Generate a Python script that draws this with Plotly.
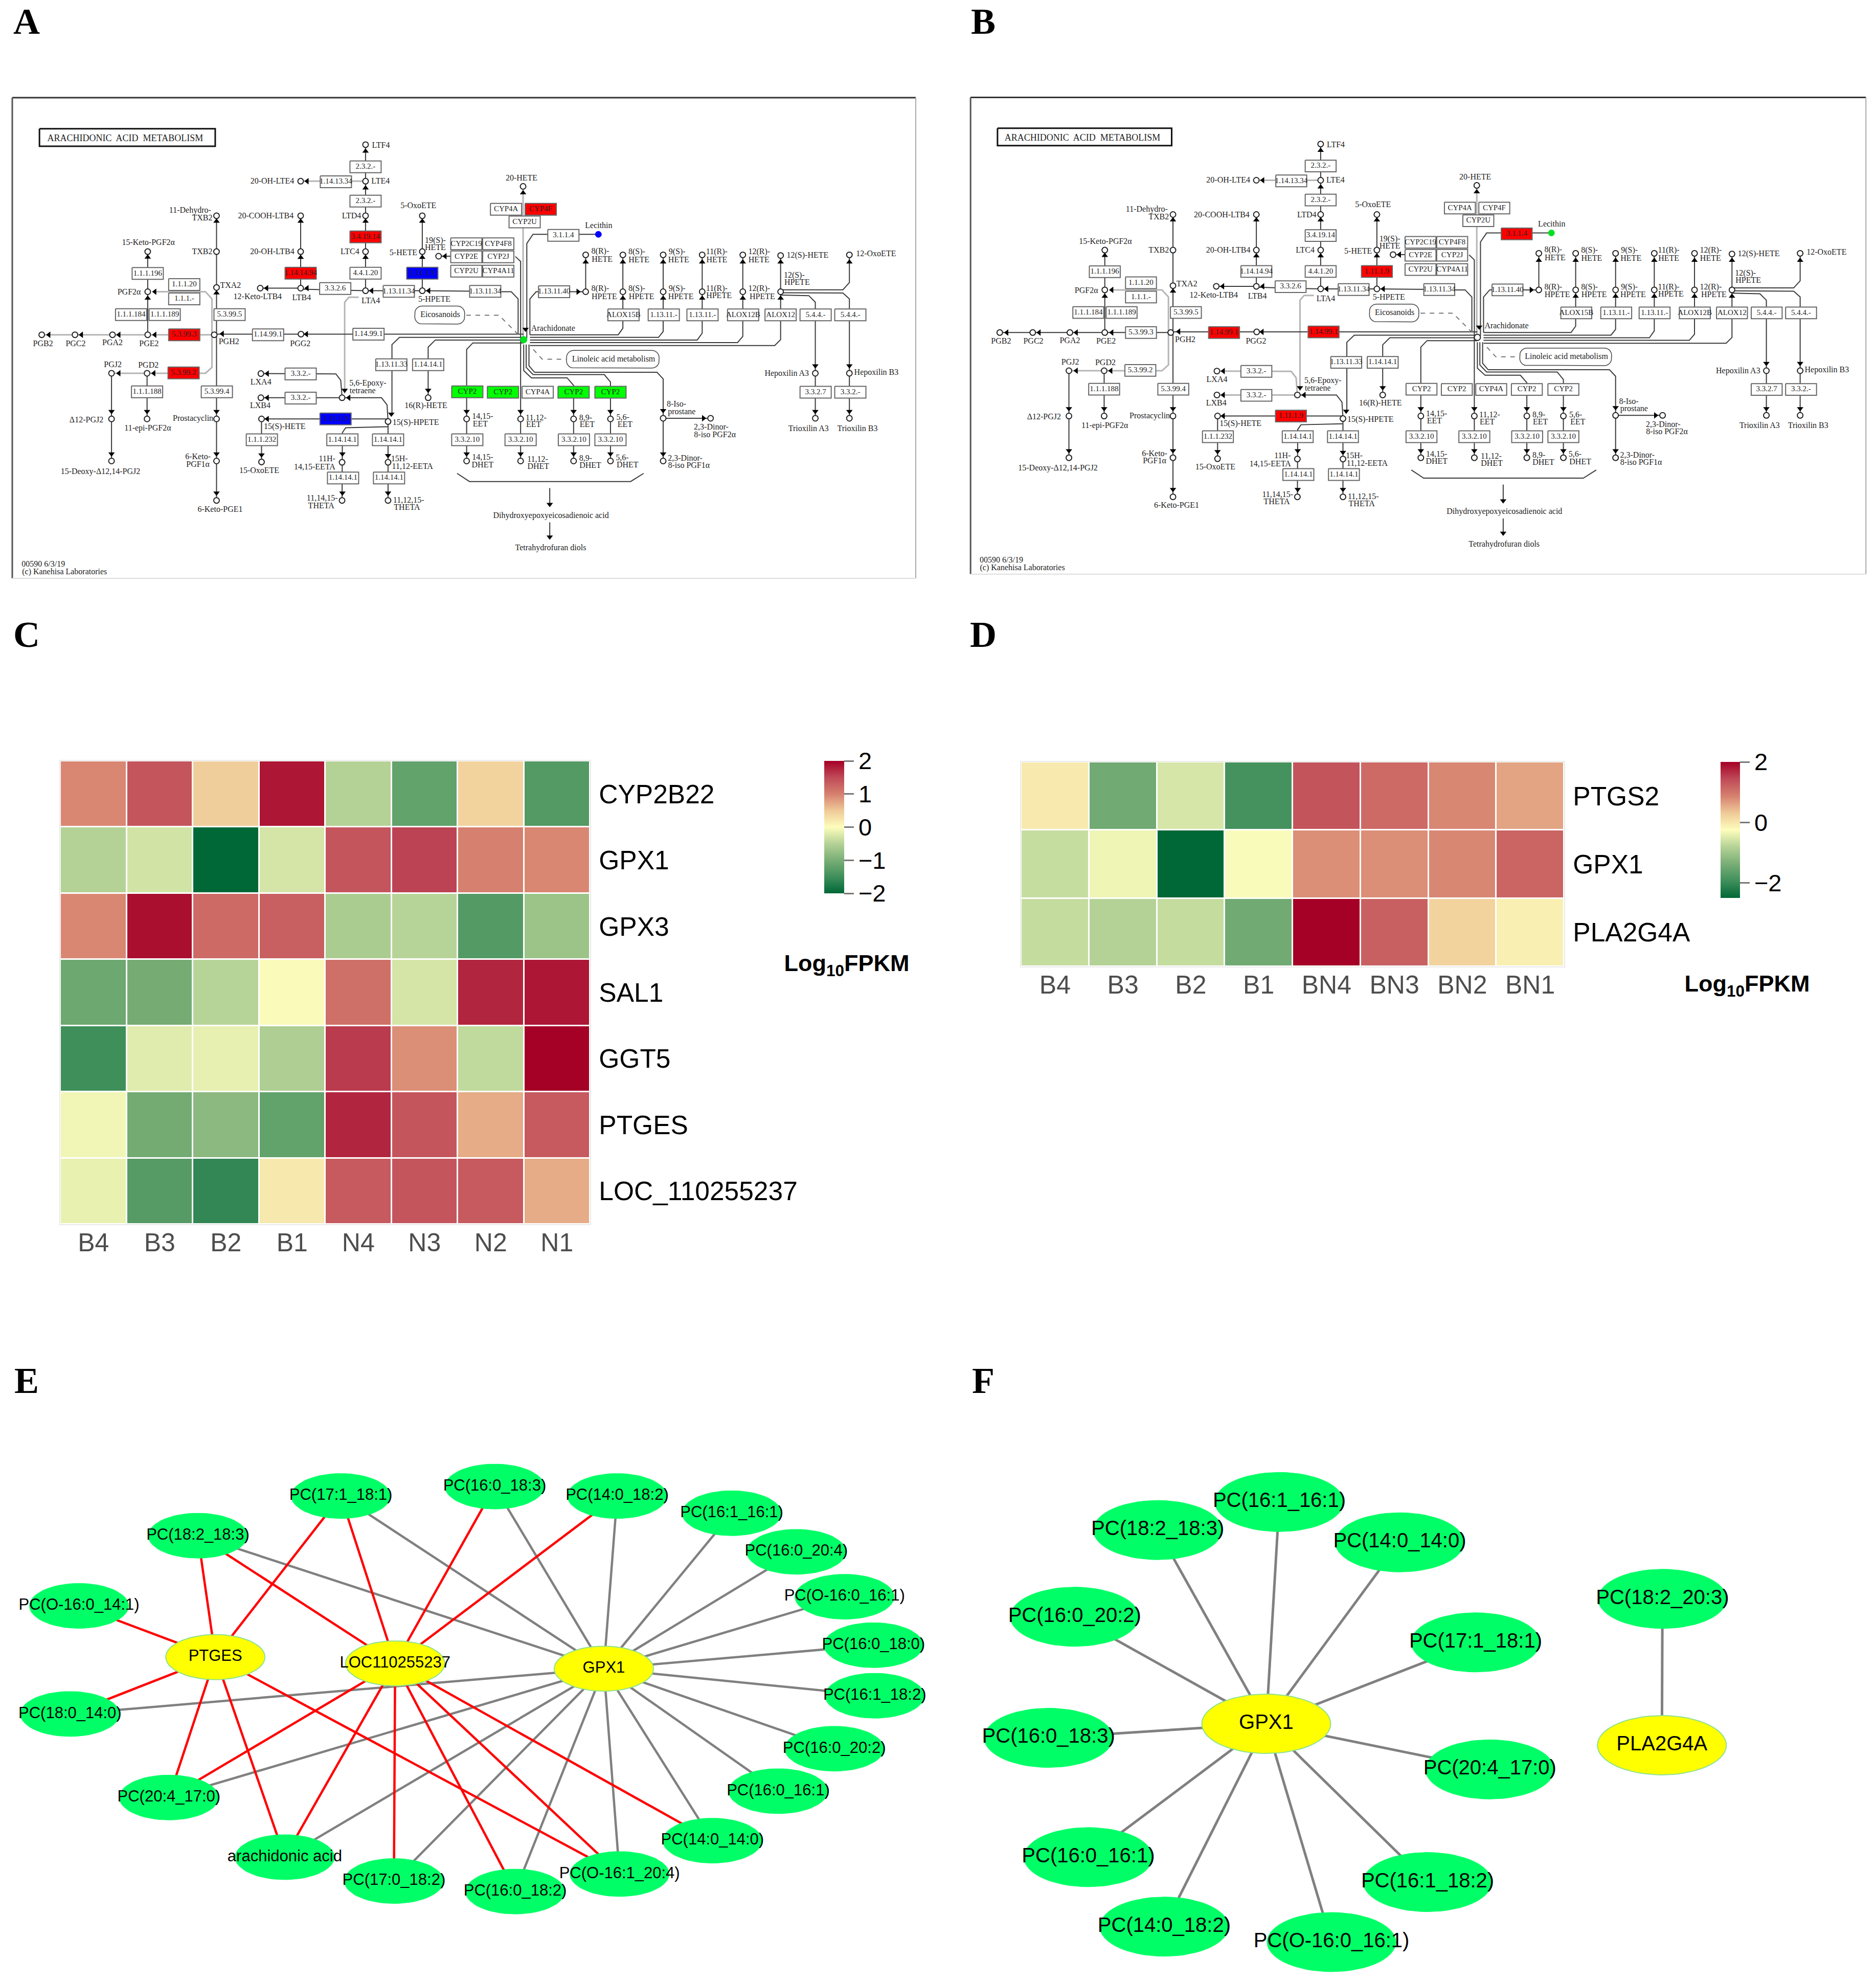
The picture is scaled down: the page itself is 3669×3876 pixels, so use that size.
import math
import plotly.graph_objects as go

PAGE_W, PAGE_H = 3669, 3876
SERIF = "Liberation Serif"
SANS = "Liberation Sans"

# ---------------- heatmap data ----------------
C_SAMPLES = ["B4", "B3", "B2", "B1", "N4", "N3", "N2", "N1"]
C_GENES = ["CYP2B22", "GPX1", "GPX3", "SAL1", "GGT5", "PTGES", "LOC_110255237"]
C_VALUES = [
    [0.95, 1.40, 0.45, 1.85, -0.50, -1.20, 0.40, -1.33],
    [-0.50, -0.30, -2.00, -0.28, 1.40, 1.55, 1.00, 0.95],
    [0.95, 1.90, 1.20, 1.30, -0.58, -0.48, -1.33, -0.70],
    [-1.10, -1.03, -0.48, -0.02, 1.15, -0.28, 1.75, 1.85],
    [-1.50, -0.20, -0.15, -0.55, 1.60, 0.90, -0.42, 2.00],
    [-0.08, -1.05, -0.85, -1.20, 1.75, 1.40, 0.70, 1.35],
    [-0.14, -1.30, -1.60, 0.20, 1.35, 1.40, 1.35, 0.70],
]
D_SAMPLES = ["B4", "B3", "B2", "B1", "BN4", "BN3", "BN2", "BN1"]
D_GENES = ["PTGS2", "GPX1", "PLA2G4A"]
D_VALUES = [
    [-0.03, -1.45, -0.55, -1.88, 1.33, 1.10, 0.82, 0.60],
    [-0.67, -0.36, -2.50, -0.28, 0.76, 0.76, 0.82, 1.16],
    [-0.68, -0.81, -0.68, -1.45, 2.00, 1.21, 0.20, -0.10],
]
HEAT_SCALE = [
    [0.0, "#006837"], [0.125, "#3F8F5B"], [0.25, "#79AE76"], [0.375, "#B4D296"],
    [0.5, "#FDFDBC"], [0.625, "#EFC997"], [0.75, "#D6806F"], [0.875, "#BF4A58"],
    [1.0, "#A50026"],
]

# ---------------- network data (positions) ----------------
E_NODES = {
    "PC(17:1_18:1)": (565, 183), "PC(16:0_18:3)": (820, 156), "PC(14:0_18:2)": (1023, 183),
    "PC(16:1_16:1)": (1213, 232), "PC(16:0_20:4)": (1320, 342), "PC(O-16:0_16:1)": (1400, 470),
    "PC(16:0_18:0)": (1448, 608), "PC(16:1_18:2)": (1450, 752), "PC(16:0_20:2)": (1383, 903),
    "PC(16:0_16:1)": (1290, 1024), "PC(14:0_14:0)": (1181, 1165), "PC(O-16:1_20:4)": (1027, 1260),
    "PC(16:0_18:2)": (854, 1310), "PC(17:0_18:2)": (653, 1280), "arachidonic acid": (472, 1212),
    "PC(20:4_17:0)": (280, 1042), "PC(18:0_14:0)": (116, 804), "PC(O-16:0_14:1)": (131, 496),
    "PC(18:2_18:3)": (328, 296),
}
E_HUBS = {"PTGES": (357, 642), "LOC110255237": (655, 660), "GPX1": (1001, 675)}
E_GPX1_LINKS = ["PC(17:1_18:1)", "PC(16:0_18:3)", "PC(14:0_18:2)", "PC(16:1_16:1)", "PC(16:0_20:4)",
                "PC(O-16:0_16:1)", "PC(16:0_18:0)", "PC(16:1_18:2)", "PC(16:0_20:2)", "PC(16:0_16:1)",
                "PC(14:0_14:0)", "PC(O-16:1_20:4)", "PC(16:0_18:2)", "PC(17:0_18:2)", "arachidonic acid",
                "PC(20:4_17:0)", "PC(18:0_14:0)", "PC(18:2_18:3)"]
E_PTGES_LINKS = ["PC(18:2_18:3)", "PC(17:1_18:1)", "PC(O-16:0_14:1)", "PC(18:0_14:0)", "PC(20:4_17:0)",
                 "arachidonic acid", "PC(O-16:1_20:4)"]
E_LOC_LINKS = ["PC(18:2_18:3)", "PC(17:1_18:1)", "PC(16:0_18:3)", "PC(14:0_18:2)", "PC(20:4_17:0)",
               "arachidonic acid", "PC(17:0_18:2)", "PC(16:0_18:2)", "PC(O-16:1_20:4)", "PC(14:0_14:0)"]
F_NODES = {
    "PC(16:1_16:1)": (562, 200), "PC(18:2_18:3)": (357, 280), "PC(14:0_14:0)": (765, 315),
    "PC(16:0_20:2)": (217, 527), "PC(17:1_18:1)": (893, 600), "PC(16:0_18:3)": (173, 872),
    "PC(20:4_17:0)": (917, 962), "PC(16:0_16:1)": (240, 1212), "PC(16:1_18:2)": (812, 1283),
    "PC(14:0_18:2)": (368, 1410), "PC(O-16:0_16:1)": (650, 1454), "PC(18:2_20:3)": (1208, 476),
}
F_HUBS = {"GPX1": (540, 832), "PLA2G4A": (1207, 893)}
F_GPX1_LINKS = [k for k in F_NODES if k != "PC(18:2_20:3)"]
F_PLA_LINKS = ["PC(18:2_20:3)"]

# ---------------- KEGG map data ----------------
# L_* lists are positions on the left half of the map, R_* on the right half.
L_COMPOUNDS = [(1121,177),(1121,289),(922,289),(1121,395),(1121,505),(1295,395),(1295,505),(1345,519),
 (922,395),(922,505),(798,617),(922,617),(1121,625),(1295,625),(664,395),(664,505),(664,615),(657,760),
 (923,758),(453,505),(453,628),(453,760),(345,760),(230,760),(128,760),(342,878),(451,878),(342,1018),
 (451,1018),(342,1147),(664,1018),(664,1147),(664,1268),(800,879),(800,953),(1049,953),(802,1018),
 (802,1150),(1190,1026),(1313,953),(1049,1151),(1190,1151),(1049,1268),(1190,1268),(1431,1018),(1431,1147)]
R_COMPOUNDS = [(203,305),(405,515),(525,515),(655,515),(781,515),(912,515),(1034,517),(1256,515),
 (405,628),(525,628),(655,628),(781,628),(912,628),(1034,628),(195,1018),(366,1018),(485,1018),
 (655,1016),(808,1016),(655,1147),(195,1147),(366,1147),(485,1147),(1146,878),(1256,878),(1146,1016),(1256,1016)]
R_ARACHIDONATE = (205, 775)
R_LECITHIN = (446, 452)

L_ENZYMES = [("2.3.2.-",1121,245),("1.14.13.34",1030,291),("2.3.2.-",1121,350),("3.4.19.14",1121,460),
 ("4.4.1.20",1121,571),("3.3.2.6",1028,618),("1.14.14.94",922,571),("1.13.11.34",1223,627),
 ("1.11.1.9",1295,571),("1.13.11.34",1488,627),("CYP2C19",1430,481),("CYP4F8",1528,481),("CYP2E",1430,521),
 ("CYP2J",1528,521),("CYP2U",1430,565),("CYP4A11",1528,565),("1.1.1.196",453,572),("1.1.1.20",565,606),
 ("1.1.1.-",565,650),("1.1.1.184",402,698),("1.1.1.189",505,698),("5.3.99.5",704,698),("5.3.99.3",565,760),
 ("1.14.99.1",822,760),("1.14.99.1",1130,758),("5.3.99.2",563,877),("1.1.1.188",451,935),("5.3.99.4",665,935),
 ("3.3.2.-",922,880),("3.3.2.-",922,954),("1.11.1.9",1029,1018),("1.13.11.33",1200,852),("1.14.14.1",1313,852),
 ("CYP2",1433,935),("1.1.1.232",803,1082),("1.14.14.1",1050,1082),("1.14.14.1",1190,1082),("1.14.14.1",1052,1199),
 ("1.14.14.1",1193,1199),("3.3.2.10",1433,1082)]
R_ENZYMES = [("CYP4A",148,375),("CYP4F",260,375),("CYP2U",208,414),("3.1.1.4",333,455),("1.13.11.40",303,628),
 ("ALOX15B",527,699),("1.13.11.-",657,699),("1.13.11.-",782,699),("ALOX12B",913,699),("ALOX12",1034,699),
 ("5.4.4.-",1147,699),("5.4.4.-",1259,699),("CYP2",138,936),("CYP4A",250,936),("CYP2",366,936),("CYP2",485,936),
 ("3.3.2.10",195,1082),("3.3.2.10",367,1082),("3.3.2.10",485,1082),("3.3.2.7",1147,936),("3.3.2.-",1259,936)]

# indexes of coloured enzymes: panel -> {(side, index): colour}
A_COLOURED = {("L",3):"#FF0000",("L",6):"#FF0000",("L",22):"#FF0000",("L",25):"#FF0000",("R",1):"#FF0000",
              ("L",8):"#0000FF",("L",30):"#0000FF",("L",33):"#00FF00",("R",12):"#00FF00",("R",14):"#00FF00",("R",15):"#00FF00"}
B_COLOURED = {("L",8):"#FF0000",("L",30):"#FF0000",("L",23):"#FF0000",("L",24):"#FF0000",("R",3):"#FF0000"}

L_LABELS = [("LTF4",1168,180),("LTE4",1167,290),("20-OH-LTE4",835,290),("20-COOH-LTB4",815,397),("LTD4",1078,397),
 ("5-OxoETE",1283,366),("19(S)-",1335,472),("HETE",1335,494),("5-HETE",1237,510),("LTC4",1073,506),("20-OH-LTB4",835,507),
 ("11-Dehydro-",583,380),("TXB2",620,403),("TXB2",620,507),("15-Keto-PGF2α",455,479),("TXA2",707,610),("12-Keto-LTB4",790,645),
 ("LTB4",925,648),("LTA4",1137,657),("5-HPETE",1332,652),("PGF2α",396,631),("PGB2",132,788),("PGC2",232,788),("PGA2",345,786),
 ("PGE2",457,788),("PGH2",702,783),("PGG2",921,788),("PGJ2",346,853),("PGD2",455,855),("LXA4",800,907),("LXB4",798,979),
 ("5,6-Epoxy-",1128,910),("tetraene",1112,933),("Δ12-PGJ2",265,1022),("11-epi-PGF2α",453,1048),("Prostacyclin",592,1018),
 ("15(S)-HETE",873,1043),("15(S)-HPETE",1275,1030),("16(R)-HETE",1306,979),("6-Keto-",607,1136),("PGF1α",607,1158),
 ("15-OxoETE",795,1177),("11H-",1003,1142),("14,15-EETA",965,1167),("15H-",1225,1142),("11,12-EETA",1265,1165),
 ("15-Deoxy-Δ12,14-PGJ2",308,1180),("6-Keto-PGE1",675,1296),("11,14,15-",988,1262),("THETA",985,1285),("11,12,15-",1253,1268),
 ("THETA",1248,1290),("14,15-",1480,1012),("EET",1473,1035),("14,15-",1480,1137),("DHET",1480,1160),("Eicosanoids",1350,700),
 ("00590 6/3/19",133,1465),("(c) Kanehisa Laboratories",198,1488)]
R_LABELS = [("20-HETE",198,280),("Lecithin",447,426),("8(R)-",452,505),("HETE",458,530),("8(S)-",570,507),("HETE",577,531),
 ("9(S)-",700,507),("HETE",705,531),("11(R)-",828,507),("HETE",828,531),("12(R)-",965,507),("HETE",964,531),("12(S)-HETE",1121,518),
 ("12-OxoETE",1342,513),("12(S)-",1078,578),("HPETE",1087,600),("8(R)-",452,620),("HPETE",465,644),("8(S)-",570,620),("HPETE",585,644),
 ("9(S)-",700,620),("HPETE",712,644),("11(R)-",828,620),("HPETE",835,642),("12(R)-",965,620),("HPETE",975,644),("Arachidonate",300,741),
 ("Linoleic acid metabolism",495,836),("Hepoxilin A3",1054,879),("Hepoxilin B3",1343,877),("Trioxilin A3",1124,1049),("Trioxilin B3",1282,1049),
 ("8-Iso-",698,974),("prostane",715,997),("2,3-Dinor-",810,1045),("8-iso PGF2α",822,1068),("2,3-Dinor-",726,1140),("8-iso PGF1α",738,1162),
 ("11,12-",245,1016),("EET",237,1037),("8,9-",405,1016),("EET",410,1037),("5,6-",525,1015),("EET",532,1037),("11,12-",250,1143),("DHET",252,1165),
 ("8,9-",405,1140),("DHET",420,1162),("5,6-",523,1138),("DHET",540,1161),("Dihydroxyepoxyeicosadienoic acid",293,1315),("Tetrahydrofuran diols",292,1415)]

L_EDGES = [
 [(1121,177),(1121,625)], [(922,395),(922,617)], [(1295,395),(1295,625)], [(1345,519),(1385,519)],
 [(798,617),(922,617)], [(922,620),(1121,625)], [(1121,625),(1295,625)], [(1295,625),(1488,627)],
 [(664,395),(664,1268)], [(453,505),(453,760)], [(657,758),(1606,758)], [(342,878),(342,1147)], [(451,878),(451,1018)],
 [(802,1018),(1190,1018)], [(802,1018),(802,1150)], [(1049,953),(1170,953),(1187,975),(1190,1026)], [(1190,1026),(1190,1268)],
 [(1190,1042),(1060,1045),(1050,1060),(1049,1268)], [(1606,768),(1225,768),(1202,790),(1202,1005)],
 [(1606,776),(1335,776),(1313,798),(1313,950)], [(1606,785),(1450,785),(1431,805),(1431,1147)],
]
L_EDGES_PALE = [
 [(922,289),(1121,289)], [(470,628),(630,628),(650,650),(650,860),(630,878),(342,878)],
 [(1100,645),(1070,645),(1057,660),(1057,940)],
]
L_EDGES_ROW = [[(128,760),(657,760)]]                # pale in A, dark in B
L_EDGES_LX = [[(800,879),(1030,880),(1045,900),(1049,953)], [(800,953),(1049,953)]]  # dark in A, pale in B
L_DASHED = [[(1430,700),(1530,700),(1590,760)]]
R_EDGES = [
 [(215,770),(215,480),(235,452),(446,452)], [(225,760),(225,650),(245,628),(405,628)],
 [(405,515),(405,628)], [(525,515),(525,628)], [(655,515),(655,628)], [(781,515),(781,628)], [(912,515),(912,628)], [(1034,517),(1034,628)],
 [(225,760),(510,760),(525,740),(525,628)], [(225,768),(640,768),(655,750),(655,628)], [(225,776),(765,776),(781,755),(781,628)],
 [(225,784),(895,784),(912,765),(912,628)], [(225,793),(1015,793),(1034,775),(1034,628)],
 [(1034,622),(1235,622),(1256,600),(1256,515)], [(1034,638),(1125,640),(1146,660),(1146,1016)], [(1034,631),(1235,632),(1256,650),(1256,1016)],
 [(133,628),(165,628),(187,650),(187,757)], [(178,520),(195,535),(195,1147)],
 [(205,790),(205,870),(230,892),(345,892),(366,915),(366,1147)], [(213,790),(213,860),(235,882),(465,882),(485,905),(485,1147)],
 [(222,790),(222,855),(240,875),(635,875),(655,895),(655,1147)], [(655,1016),(808,1016)],
 [(-10,1185),(30,1210),(550,1210),(592,1185)], [(289,1230),(289,1285)], [(289,1335),(289,1385)],
]
R_EDGES_PALE = [[(203,305),(203,775)]]
R_DASHED = [[(236,805),(265,835),(342,835)]]

L_ARROWS_UP = [(1121,197),(1121,310),(1121,412),(1121,523),(922,412),(922,523),(1295,412),(1295,523),(664,412),(664,632),(453,522),(453,648)]
L_ARROWS_DOWN = [(342,995),(342,1125),(451,995),(664,995),(664,1125),(664,1245),(1057,930),(1200,1003),(1313,930),(1431,995),(1431,1125),(1050,1125),(1190,1130),(1050,1245),(1190,1245),(802,1128)]
L_ARROWS_LEFT = [(150,760),(250,760),(365,760),(475,760),(682,757),(940,758),(475,628),(365,878),(472,878),(820,879),(820,953),(820,1018),(818,617),(942,617),(1140,625),(1315,625),(1365,519),(1070,953),(942,289)]
R_ARROWS_UP = [(203,325),(405,537),(525,537),(655,537),(781,537),(912,537),(1034,537),(1256,537),(525,648),(655,648),(781,648),(912,648),(1034,648)]
R_ARROWS_DOWN = [(211,743),(1146,855),(1256,855),(1146,995),(1256,995),(195,995),(366,995),(485,995),(655,992),(195,1125),(366,1125),(485,1125),(655,1125),(289,1280),(289,1380)]
R_ARROWS_RIGHT = [(380,628),(785,1016)]

PANEL_LETTERS = [("A",52,48),("B",1923,48),("C",52,1247),("D",1923,1247),("E",52,2706),("F",1923,2706)]


def L(u, v):
    return u / 1.568, 170 + v / 1.568


def R(u, v):
    return 900 + u / 1.65, 170 + v / 1.568


def to_a(x, y):
    return x, y


def to_b(x, y):
    return 1874.4 + 0.991 * x, 169.7 + 0.9917 * (y - 170)


fig = go.Figure()


def lines(paths, color, width, dash="solid"):
    xs, ys = [], []
    for p in paths:
        for x, y in p:
            xs.append(x)
            ys.append(y)
        xs.append(None)
        ys.append(None)
    fig.add_trace(go.Scatter(x=xs, y=ys, mode="lines", hoverinfo="skip", showlegend=False,
                             line=dict(color=color, width=width, dash=dash)))


def polys(paths, fill, line_color, width):
    xs, ys = [], []
    for p in paths:
        for x, y in list(p) + [p[0]]:
            xs.append(x)
            ys.append(y)
        xs.append(None)
        ys.append(None)
    fig.add_trace(go.Scatter(x=xs, y=ys, mode="lines", fill="toself", fillcolor=fill, hoverinfo="skip",
                             showlegend=False, line=dict(color=line_color, width=width)))


def markers(pts, symbol, size, color, line_color=None, line_width=0):
    fig.add_trace(go.Scatter(x=[p[0] for p in pts], y=[p[1] for p in pts], mode="markers", hoverinfo="skip",
                             showlegend=False,
                             marker=dict(symbol=symbol, size=size, color=color,
                                         line=dict(color=line_color or color, width=line_width))))


def texts(items, size, color="#000000", family=SANS, weight=None):
    fig.add_trace(go.Scatter(x=[i[1] for i in items], y=[i[2] for i in items], text=[i[0] for i in items],
                             mode="text", textposition="middle center", hoverinfo="skip", showlegend=False,
                             cliponaxis=False,
                             textfont=dict(size=size, color=color, family=family, weight=weight or "normal")))


def rounded(x0, y0, x1, y1, r):
    pts = []
    for cx, cy, a0 in ((x1 - r, y0 + r, -90), (x1 - r, y1 - r, 0), (x0 + r, y1 - r, 90), (x0 + r, y0 + r, 180)):
        for k in range(0, 7):
            a = math.radians(a0 + 15 * k)
            pts.append((cx + r * math.cos(a), cy + r * math.sin(a)))
    return pts


def ellipse(cx, cy, rx, ry):
    return [(cx + rx * math.cos(math.radians(t)), cy + ry * math.sin(math.radians(t))) for t in range(0, 360, 6)]


def draw_kegg(tf, coloured, arach_fill, lecithin_fill, row_pale):
    P = lambda f, pts: [tf(*f(*p)) for p in pts]
    # frame
    lines([[tf(24, 191), tf(1791, 191)]], "#333333", 3)
    lines([[tf(24, 191), tf(24, 1131)]], "#555555", 3)
    lines([[tf(1791, 191), tf(1791, 1131)]], "#AAAAAA", 2)
    lines([[tf(24, 1131), tf(1791, 1131)]], "#DDDDDD", 2)
    # edges
    dark = [P(L, e) for e in L_EDGES] + [P(R, e) for e in R_EDGES]
    pale = [P(L, e) for e in L_EDGES_PALE] + [P(R, e) for e in R_EDGES_PALE]
    row = [P(L, e) for e in L_EDGES_ROW]
    lx = [P(L, e) for e in L_EDGES_LX]
    if row_pale:
        pale += row
        dark += lx
    else:
        dark += row
        pale += lx
    lines(pale, "#B5B5B5", 3)
    lines(dark, "#3A3A3A", 2)
    lines([P(L, e) for e in L_DASHED] + [P(R, e) for e in R_DASHED], "#777777", 2, "dash")
    # arrows
    markers(P(L, L_ARROWS_UP) + P(R, R_ARROWS_UP), "triangle-up", 11, "#000000")
    markers(P(L, L_ARROWS_DOWN) + P(R, R_ARROWS_DOWN), "triangle-down", 11, "#000000")
    markers(P(L, L_ARROWS_LEFT), "triangle-left", 11, "#000000")
    markers(P(R, R_ARROWS_RIGHT), "triangle-right", 11, "#000000")
    # compounds
    markers(P(L, L_COMPOUNDS) + P(R, R_COMPOUNDS), "circle", 11, "#FFFFFF", "#222222", 2)
    markers(P(R, [R_ARACHIDONATE]), "circle", 12, arach_fill, "#222222" if arach_fill == "#FFFFFF" else arach_fill, 2)
    markers(P(R, [R_LECITHIN]), "circle", 12, lecithin_fill, lecithin_fill, 1)
    # enzyme boxes grouped by fill
    groups = {}
    labels = []
    for side, f, arr in (("L", L, L_ENZYMES), ("R", R, R_ENZYMES)):
        for i, (name, u, v) in enumerate(arr):
            cx, cy = f(u, v)
            hw, hh = 30.5, 11.5
            box = [tf(cx - hw, cy - hh), tf(cx + hw, cy - hh), tf(cx + hw, cy + hh), tf(cx - hw, cy + hh)]
            groups.setdefault(coloured.get((side, i), "#FFFFFF"), []).append(box)
            labels.append((name,) + tf(cx, cy))
    for fill, boxes in groups.items():
        polys(boxes, fill, "#666666", 2)
    # rounded process boxes and title box
    polys([[tf(*p) for p in rounded(*L(1272, 672), *L(1425, 727), 14)],
           [tf(*p) for p in rounded(*R(343, 808), *R(642, 862), 14)]], "#FFFFFF", "#444444", 1.5)
    x0, y0 = L(121, 128)
    x1, y1 = L(660, 182)
    polys([[tf(x0, y0), tf(x1, y0), tf(x1, y1), tf(x0, y1)]], "#FFFFFF", "#111111", 3)
    # text
    texts([(t,) + tf(*L(u, v)) for t, u, v in L_LABELS] + [(t,) + tf(*R(u, v)) for t, u, v in R_LABELS],
          16, "#222222", SERIF)
    texts(labels, 15, "#222222", SERIF)
    cx, cy = L(384, 159)
    texts([("ARACHIDONIC  ACID  METABOLISM",) + tf(cx, cy)], 18, "#222222", SERIF)


draw_kegg(to_a, A_COLOURED, "#00E020", "#0000FF", True)
draw_kegg(to_b, B_COLOURED, "#FFFFFF", "#00E020", False)


def draw_network(nodes, hubs, conv, rx, ry, font, link_sets, w):
    allp = {k: conv(*v) for k, v in {**nodes, **hubs}.items()}
    for hub, targets, color in link_sets:
        lines([[allp[hub], allp[t]] for t in targets], color, w)
    polys([ellipse(*allp[k], rx, ry) for k in nodes], "#00FF66", "#00FF66", 1)
    polys([ellipse(*allp[k], rx, ry) for k in hubs], "#FFFF00", "#8FE08F", 2)
    texts([(k,) + allp[k] for k in list(nodes) + list(hubs)], font, "#000000", SANS)


draw_network(E_NODES, E_HUBS, lambda x, y: (x / 0.8476, 2800 + y / 1.457), 97, 44, 31,
             [("GPX1", E_GPX1_LINKS, "#808080"), ("PTGES", E_PTGES_LINKS, "#FF0000"), ("LOC110255237", E_LOC_LINKS, "#FF0000")], 4.5)
draw_network(F_NODES, F_HUBS, lambda x, y: (1850 + x / 0.862, 2800 + y / 1.457), 126, 58, 40,
             [("GPX1", F_GPX1_LINKS, "#808080"), ("PLA2G4A", F_PLA_LINKS, "#808080")], 5)

# panel letters
texts(PANEL_LETTERS, 72, "#000000", SERIF, "bold")

# Log10FPKM captions
texts([("Log<sub>10</sub>FPKM", 1656, 1888), ("Log<sub>10</sub>FPKM", 3417, 1928)], 45, "#000000", SANS, "bold")

# ---------------- heatmaps ----------------


def heat(xname, yname, samples, genes, values, x0, x1, y0, y1, zmin, zmax, ticks, cb):
    fig.add_shape(type="rect", xref="x", yref="y", x0=x0 - 2, x1=x1 + 2, y0=y0 - 2, y1=y1 + 2,
                  fillcolor="#EAEAEA", line_width=0, layer="below")
    fig.add_trace(go.Heatmap(z=values, x=samples, y=genes, xaxis=xname, yaxis=yname, zmin=zmin, zmax=zmax,
                             colorscale=HEAT_SCALE, xgap=3, ygap=3, hoverinfo="skip",
                             colorbar=dict(x=cb[0] / PAGE_W, xanchor="left", xpad=0, ypad=0, y=1 - cb[1] / PAGE_H,
                                           yanchor="top", thickness=cb[2], thicknessmode="pixels", len=cb[3],
                                           lenmode="pixels", outlinewidth=0, tickvals=ticks, ticks="outside",
                                           ticklen=19, tickwidth=3, tickcolor="#777777",
                                           tickfont=dict(family=SANS, size=47, color="#000000"))))
    suffix = xname[1:]
    fig.update_layout({
        f"xaxis{suffix}": dict(domain=[x0 / PAGE_W, x1 / PAGE_W], anchor=yname, side="bottom", showgrid=False, zeroline=False,
                               categoryorder="array", categoryarray=samples, ticks="", ticklabelstandoff=2, showline=False,
                               tickfont=dict(family=SANS, size=50, color="#4D4D4D")),
        f"yaxis{suffix}": dict(domain=[1 - y1 / PAGE_H, 1 - y0 / PAGE_H], anchor=xname, side="right", showgrid=False, zeroline=False,
                               autorange="reversed", ticks="outside", ticklen=6, tickcolor="rgba(0,0,0,0)", showline=False,
                               tickfont=dict(family=SANS, size=51.5, color="#000000")),
    })


heat("x2", "y2", C_SAMPLES, C_GENES, C_VALUES, 118, 1154, 1488, 2394, -2, 2, [-2, -1, 0, 1, 2], (1612, 1488, 39, 259))
heat("x3", "y3", D_SAMPLES, D_GENES, D_VALUES, 1997, 3059, 1490, 1890, -2.5, 2, [-2, 0, 2], (3365, 1490, 38, 266))

fig.update_layout(
    width=PAGE_W, height=PAGE_H, margin=dict(l=0, r=0, t=0, b=0), autosize=False,
    paper_bgcolor="#FFFFFF", plot_bgcolor="#FFFFFF", showlegend=False,
    xaxis=dict(range=[0, PAGE_W], visible=False, domain=[0, 1], fixedrange=True),
    yaxis=dict(range=[PAGE_H, 0], visible=False, domain=[0, 1], fixedrange=True),
)
fig.write_html("out.html", config={"displayModeBar": False}, post_script="document.body.style.margin='0';")
